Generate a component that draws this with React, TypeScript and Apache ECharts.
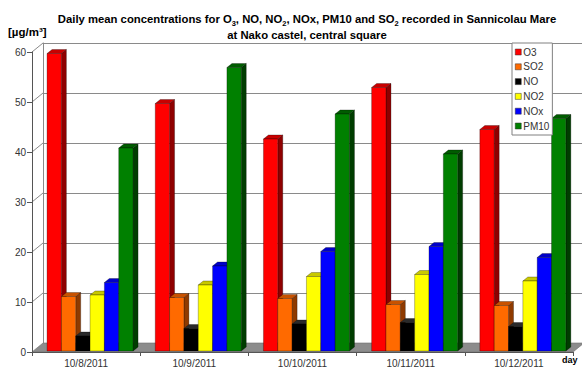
import React, { useEffect, useRef } from "react";
import * as echarts from "echarts";

// Days on the category axis
const days = ["10/8/2011", "10/9/2011", "10/10/2011", "10/11/2011", "10/12/2011"];

// Daily mean concentrations [µg/m³]
const o3 = [59.5, 49.5, 42.4, 52.7, 44.3];
const so2 = [10.9, 10.7, 10.5, 9.3, 9.1];
const no = [3.0, 4.5, 5.4, 5.7, 4.9];
const no2 = [11.2, 13.2, 14.9, 15.3, 14.0];
const nox = [13.7, 17.0, 19.9, 20.9, 18.7];
const pm10 = [40.6, 56.7, 47.4, 39.4, 46.5];

// Value axis ticks
const yTicks = [0, 10, 20, 30, 40, 50, 60];

const seriesDefs = [
  { name: "O3", values: o3, front: "#ff0000", side: "#8f0000", top: "#c80000" },
  { name: "SO2", values: so2, front: "#ff6a00", side: "#8f3a00", top: "#c85200" },
  { name: "NO", values: no, front: "#000000", side: "#000000", top: "#2a2a2a" },
  { name: "NO2", values: no2, front: "#ffff00", side: "#8f8f00", top: "#c8c800" },
  { name: "NOx", values: nox, front: "#0000ff", side: "#00008f", top: "#0000c8" },
  { name: "PM10", values: pm10, front: "#008000", side: "#003d00", top: "#005c00" },
];

// 3D look: wall depth and bar depth offsets (px)
const WALL_DX = 11;
const WALL_DY = 9;
const BAR_DX = 5;
const BAR_DY = 4;
const GROUP_START = 0.139;
const BAR_W = 0.1325;
const EDGE = "rgba(0,0,0,0.55)";

function barRenderer(i: number, def: any) {
  return (params: any, api: any) => {
    const ci = api.value(0);
    const v = api.value(1);
    const base = api.coord([ci, 0]);
    const top = api.coord([ci, v]);
    const band = api.size([1, 0])[0];
    const x0 = base[0] - band / 2 + band * (GROUP_START + i * BAR_W);
    const w = band * BAR_W;
    const yb = base[1] - 1;
    const yt = top[1] - 1;
    return {
      type: "group",
      children: [
        {
          type: "polygon",
          shape: { points: [[x0 + w, yb], [x0 + w + BAR_DX, yb - BAR_DY], [x0 + w + BAR_DX, yt - BAR_DY], [x0 + w, yt]] },
          style: { fill: def.side, stroke: EDGE, lineWidth: 0.5 },
        },
        {
          type: "polygon",
          shape: { points: [[x0, yt], [x0 + w, yt], [x0 + w + BAR_DX, yt - BAR_DY], [x0 + BAR_DX, yt - BAR_DY]] },
          style: { fill: def.top, stroke: EDGE, lineWidth: 0.5 },
        },
        {
          type: "rect",
          shape: { x: x0, y: yt, width: w, height: yb - yt },
          style: { fill: def.front, stroke: EDGE, lineWidth: 0.5 },
        },
      ],
    };
  };
}

export default function App() {
  const ref = useRef<HTMLDivElement>(null);

  useEffect(() => {
    if (!ref.current) return;
    const chart = echarts.init(ref.current, null, { renderer: "svg" });
    const font = "'Liberation Sans', Arial, sans-serif";

    const barSeries = seriesDefs.map((def, i) => ({
      type: "custom",
      name: def.name,
      xAxisIndex: 0,
      yAxisIndex: 0,
      z: 3,
      clip: false,
      itemStyle: { color: def.front },
      encode: { x: 0, y: 1 },
      data: days.map((_, k) => [k, def.values[k]]),
      renderItem: barRenderer(i, def),
    }));

    chart.setOption({
      animation: false,
      backgroundColor: "#ffffff",
      title: {
        text:
          "{b|Daily mean concentrations for O}{s|3}{b|, NO, NO}{s|2}{b|, NOx, PM10 and SO}{s|2}{b| recorded in Sannicolau Mare}\n{b|at Nako castel, central square}",
        left: 302,
        top: 6,
        textAlign: "center",
        textStyle: {
          rich: {
            b: { fontSize: 11.3, fontWeight: "bold", fontFamily: font, color: "#000", lineHeight: 16, align: "center" },
            s: { fontSize: 7.5, fontWeight: "bold", fontFamily: font, color: "#000", lineHeight: 16, verticalAlign: "bottom" },
          },
        },
      },
      legend: {
        orient: "vertical",
        left: 512,
        top: 43,
        padding: [4, 3, 4, 3],
        itemWidth: 6,
        itemHeight: 6,
        itemGap: 4.8,
        icon: "rect",
        backgroundColor: "#ffffff",
        borderColor: "#808080",
        borderWidth: 1,
        itemStyle: { borderColor: "#333", borderWidth: 0.5 },
        textStyle: { fontSize: 10, lineHeight: 10, color: "#333", fontFamily: font, padding: [0, 0, 0, -3] },
        data: seriesDefs.map((d) => d.name),
      },
      grid: [
        { left: 32, right: 9, top: 52, bottom: 18 },
        { left: 32 + WALL_DX, right: 9 - WALL_DX, top: 52 - WALL_DY, bottom: 18 + WALL_DY },
      ],
      xAxis: [
        {
          type: "category",
          gridIndex: 0,
          data: days,
          boundaryGap: true,
          z: 4,
          axisLine: { lineStyle: { color: "#555", width: 1 } },
          axisTick: { show: true, length: 4, lineStyle: { color: "#555" } },
          axisLabel: { fontSize: 10, color: "#333", fontFamily: font, margin: 6 },
        },
        { type: "category", gridIndex: 1, data: days, show: false },
      ],
      yAxis: [
        {
          type: "value",
          gridIndex: 0,
          min: 0,
          max: 60,
          interval: 10,
          z: 4,
          axisLine: { show: true, lineStyle: { color: "#555", width: 1 } },
          axisTick: { show: true, length: 5, lineStyle: { color: "#555" } },
          axisLabel: { fontSize: 10, color: "#333", fontFamily: font, margin: 6 },
          splitLine: { show: false },
        },
        {
          type: "value",
          gridIndex: 1,
          min: 0,
          max: 60,
          interval: 10,
          axisLine: { show: true, lineStyle: { color: "#8a8a8a", width: 1 } },
          axisTick: { show: false },
          axisLabel: { show: false },
          splitLine: { show: true, lineStyle: { color: "#8a8a8a", width: 1 } },
        },
      ],
      graphic: [
        {
          type: "text",
          left: 8,
          top: 26,
          style: { text: "[µg/m³]", fontSize: 11.5, fontWeight: "bold", fontFamily: font, fill: "#000" },
        },
        {
          type: "text",
          left: 562,
          top: 355,
          style: { text: "day", fontSize: 9, fontWeight: "bold", fontFamily: font, fill: "#000" },
        },
      ],
      series: [
        // floor of the plot
        {
          type: "custom",
          xAxisIndex: 0,
          yAxisIndex: 0,
          z: 1,
          silent: true,
          clip: false,
          data: [[0, 0]],
          renderItem: (params: any, api: any) => {
            const cs = params.coordSys;
            const y0 = api.coord([0, 0])[1];
            return {
              type: "polygon",
              shape: {
                points: [
                  [cs.x, y0],
                  [cs.x + cs.width, y0],
                  [cs.x + cs.width + WALL_DX, y0 - WALL_DY],
                  [cs.x + WALL_DX, y0 - WALL_DY],
                ],
              },
              style: { fill: "#8c8c8c", stroke: "#6f6f6f", lineWidth: 0.6 },
            };
          },
        },
        // side wall grid lines
        {
          type: "custom",
          xAxisIndex: 0,
          yAxisIndex: 0,
          z: 1,
          silent: true,
          clip: false,
          data: yTicks.slice(1).map((t) => [0, t]),
          renderItem: (params: any, api: any) => {
            const cs = params.coordSys;
            const y = api.coord([0, api.value(1)])[1];
            return {
              type: "line",
              shape: { x1: cs.x, y1: y, x2: cs.x + WALL_DX, y2: y - WALL_DY },
              style: { stroke: "#8a8a8a", lineWidth: 1 },
            };
          },
        },
        ...barSeries,
      ],
    });

    return () => chart.dispose();
  }, []);

  return (
    <div
      ref={ref}
      style={{ position: "fixed", left: 0, top: 0, width: 582, height: 370, background: "#fff" }}
    />
  );
}
